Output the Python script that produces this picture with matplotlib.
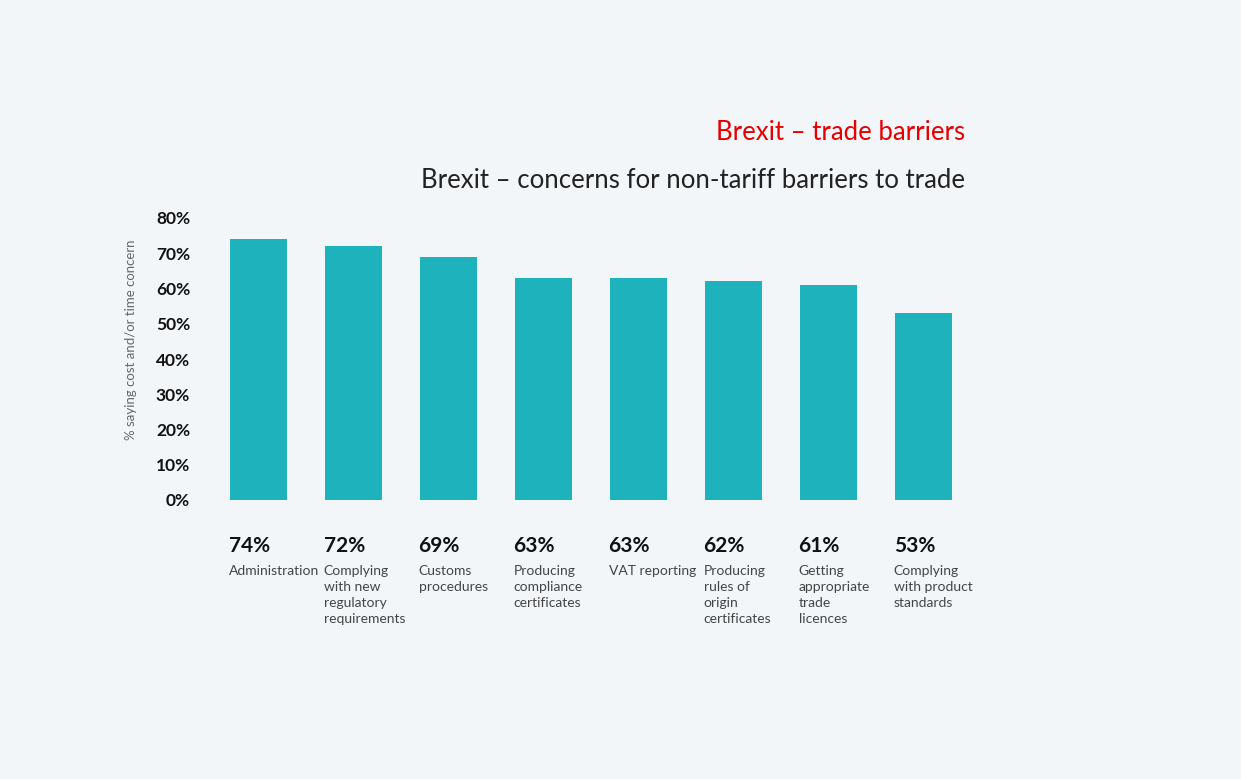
import matplotlib
matplotlib.use('Agg')
import matplotlib.pyplot as plt

# data
categories = ['Administration',
              'Complying\nwith new\nregulatory\nrequirements',
              'Customs\nprocedures',
              'Producing\ncompliance\ncertificates',
              'VAT reporting',
              'Producing\nrules of\norigin\ncertificates',
              'Getting\nappropriate\ntrade\nlicences',
              'Complying\nwith product\nstandards']
values = [74, 72, 69, 63, 63, 62, 61, 53]
yticks = [0, 10, 20, 30, 40, 50, 60, 70, 80]

bg = '#f2f6f9'
bar_color = '#1db2bc'

plt.rcParams['font.family'] = ['Lato', 'DejaVu Sans']

fig = plt.figure(figsize=(12.41, 7.79), dpi=100, facecolor=bg)
ax = fig.add_axes([211 / 1241, 1 - 500 / 779, 760 / 1241, 282 / 779])
ax.set_facecolor(bg)

x = list(range(len(values)))
ax.bar(x, values, width=0.6, color=bar_color)
ax.set_xlim(-0.5, len(values) - 0.5)
ax.set_ylim(0, 80)

ax.set_yticks(yticks)
ax.set_yticklabels([f'{t}%' for t in yticks], fontsize=12.5, fontweight='bold',
                   color='#111111')
ax.tick_params(axis='y', length=0, pad=15)
ax.set_xticks([])
for s in ax.spines.values():
    s.set_visible(False)

fig.text(131 / 1241, 1 - 340 / 779, '% saying cost and/or time concern',
         rotation=90, ha='center', va='center', fontsize=9.5,
         color='#666666', fontweight='normal')

# value + category labels under the bars
for i, (v, c) in enumerate(zip(values, categories)):
    left = i - 0.3
    ax.annotate(f'{v}%', xy=(left, 0), xycoords='data',
                xytext=(-1, -33), textcoords='offset points',
                ha='left', va='center', fontsize=15, fontweight='bold',
                color='#111111', annotation_clip=False)
    ax.annotate(c, xy=(left, 0), xycoords='data',
                xytext=(-1, -47), textcoords='offset points',
                ha='left', va='top', fontsize=10, color='#444444',
                linespacing=1.4, annotation_clip=False)

fig.text(965 / 1241, 1 - 132 / 779, 'Brexit – trade barriers',
         ha='right', va='center', fontsize=18.5, color='#e60000')
fig.text(965 / 1241, 1 - 180 / 779,
         'Brexit – concerns for non-tariff barriers to trade',
         ha='right', va='center', fontsize=18.5, color='#222222')

fig.savefig('out.png', dpi=100, facecolor=bg)
